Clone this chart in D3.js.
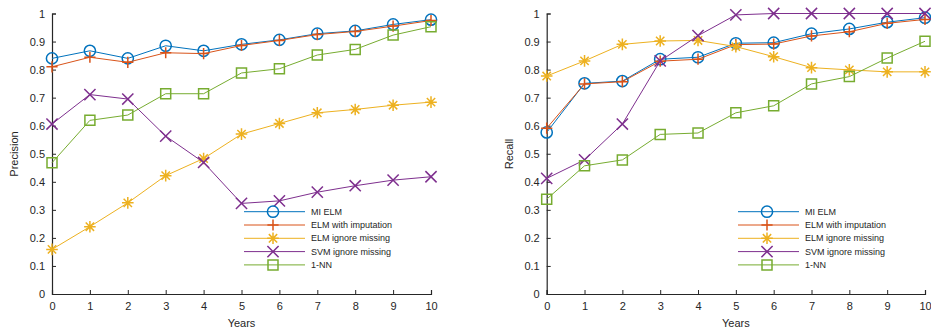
<!DOCTYPE html>
<html>
<head>
<meta charset="utf-8">
<script src="https://cdn.jsdelivr.net/npm/d3@7"></script>
<style>
  body { margin: 0; background: #fff; }
  text { font-family: "Liberation Sans", Arial, sans-serif; fill: #262626; }
</style>
</head>
<body>
<div id="chart"></div>
<script>
// Data
var years = [0, 1, 2, 3, 4, 5, 6, 7, 8, 9, 10];
var yTicks = [0, 0.1, 0.2, 0.3, 0.4, 0.5, 0.6, 0.7, 0.8, 0.9, 1];
var seriesNames = ["MI ELM", "ELM with imputation", "ELM ignore missing", "SVM ignore missing", "1-NN"];

var precisionMiElm  = [0.840, 0.867, 0.840, 0.885, 0.867, 0.890, 0.906, 0.928, 0.938, 0.961, 0.978];
var precisionElmImp = [0.810, 0.844, 0.826, 0.860, 0.857, 0.886, 0.904, 0.925, 0.936, 0.955, 0.975];
var precisionElmIgn = [0.159, 0.240, 0.325, 0.422, 0.483, 0.570, 0.608, 0.646, 0.658, 0.673, 0.684];
var precisionSvm    = [0.606, 0.711, 0.695, 0.563, 0.469, 0.323, 0.332, 0.363, 0.386, 0.406, 0.418];
var precision1nn    = [0.468, 0.619, 0.638, 0.714, 0.714, 0.788, 0.803, 0.852, 0.872, 0.923, 0.953];

var recallMiElm  = [0.576, 0.751, 0.759, 0.837, 0.844, 0.894, 0.896, 0.928, 0.945, 0.969, 0.985];
var recallElmImp = [0.591, 0.749, 0.757, 0.830, 0.837, 0.889, 0.891, 0.920, 0.935, 0.965, 0.979];
var recallElmIgn = [0.777, 0.831, 0.890, 0.902, 0.904, 0.882, 0.846, 0.807, 0.799, 0.792, 0.792];
var recallSvm    = [0.412, 0.478, 0.606, 0.831, 0.921, 0.995, 1.000, 1.000, 1.000, 1.000, 1.000];
var recall1nn    = [0.338, 0.457, 0.478, 0.569, 0.574, 0.646, 0.671, 0.749, 0.775, 0.841, 0.901];

var colors  = ["#0072BD", "#D95319", "#EDB120", "#7E2F8E", "#77AC30"];
var markers = ["circle", "plus", "star", "cross", "square"];

var width = 931, height = 329;

var svg = d3.select("#chart")
    .append("svg")
        .attr("width", width)
        .attr("height", height);

// Marker path for a given type, centered at 0,0
function markerPath(type, s) {
    if (type === "circle") {
        return d3.arc()({innerRadius: 0, outerRadius: s, startAngle: 0, endAngle: 2 * Math.PI});
    } else if (type === "plus") {
        return "M" + (-s) + ",0H" + s + "M0," + (-s) + "V" + s;
    } else if (type === "cross") {
        return "M" + (-s) + "," + (-s) + "L" + s + "," + s + "M" + (-s) + "," + s + "L" + s + "," + (-s);
    } else if (type === "star") {
        var d = s * 0.72;
        return "M" + (-s) + ",0H" + s + "M0," + (-s) + "V" + s +
            "M" + (-d) + "," + (-d) + "L" + d + "," + d + "M" + (-d) + "," + d + "L" + d + "," + (-d);
    } else {
        return "M" + (-s) + "," + (-s) + "H" + s + "V" + s + "H" + (-s) + "Z";
    }
}
var markerSize = {circle: 5.6, plus: 5.6, cross: 5.6, star: 5.8, square: 5};

function drawPanel(left, right, yLabel, series, legendX) {
    var x = d3.scaleLinear().domain([0, 10]).range([left, right]);
    var y = d3.scaleLinear().domain([0, 1]).range([294, 13.5]);

    var g = svg.append("g");

    // Axes (MATLAB style: ticks inward)
    var xAxis = d3.axisBottom(x).tickValues(years).tickSize(-4).tickPadding(8);
    var yAxis = d3.axisLeft(y).tickValues(yTicks).tickSize(-4).tickPadding(7)
        .tickFormat(function(d) { return String(+d.toFixed(1)); });

    var gx = g.append("g").attr("transform", "translate(0,294)").call(xAxis);
    var gy = g.append("g").attr("transform", "translate(" + left + ",0)").call(yAxis);
    [gx, gy].forEach(function(a) {
        a.select(".domain").attr("stroke", "#262626").attr("stroke-width", 1.2);
        a.selectAll(".tick line").attr("stroke", "#262626");
        a.selectAll(".tick text")
            .style("font-family", "'Liberation Sans', Arial, sans-serif")
            .style("font-size", "11px")
            .attr("fill", "#262626");
    });

    g.append("text")
        .attr("x", (left + right) / 2)
        .attr("y", 327)
        .attr("text-anchor", "middle")
        .style("font-size", "11px")
        .text("Years");

    g.append("text")
        .attr("transform", "translate(" + (left - 34) + ",154) rotate(-90)")
        .attr("text-anchor", "middle")
        .style("font-size", "11px")
        .text(yLabel);

    var line = d3.line()
        .x(function(d, i) { return x(years[i]); })
        .y(function(d) { return y(d); });

    series.forEach(function(vals, k) {
        g.append("path")
            .datum(vals)
            .attr("d", line)
            .attr("fill", "none")
            .attr("stroke", colors[k])
            .attr("stroke-width", 1);

        g.selectAll(".m" + k)
            .data(vals)
            .enter()
            .append("path")
            .attr("transform", function(d, i) { return "translate(" + x(years[i]) + "," + y(d) + ")"; })
            .attr("d", markerPath(markers[k], markerSize[markers[k]]))
            .attr("fill", "none")
            .attr("stroke", colors[k])
            .attr("stroke-width", 1.5);
    });

    // Legend
    var leg = g.append("g").attr("transform", "translate(" + legendX + ",211.7)");
    seriesNames.forEach(function(name, k) {
        var row = leg.append("g").attr("transform", "translate(0," + (k * 13.3) + ")");
        row.append("line")
            .attr("x1", 0).attr("x2", 61)
            .attr("stroke", colors[k]).attr("stroke-width", 1);
        row.append("path")
            .attr("transform", "translate(29,0)")
            .attr("d", markerPath(markers[k], markerSize[markers[k]]))
            .attr("fill", "none")
            .attr("stroke", colors[k])
            .attr("stroke-width", 1.5);
        row.append("text")
            .attr("x", 67)
            .attr("dy", "0.35em")
            .style("font-size", "9px")
            .text(name);
    });
}

drawPanel(52, 431, "Precision",
    [precisionMiElm, precisionElmImp, precisionElmIgn, precisionSvm, precision1nn], 244);
drawPanel(546.7, 925, "Recall",
    [recallMiElm, recallElmImp, recallElmIgn, recallSvm, recall1nn], 738);
</script>
</body>
</html>
